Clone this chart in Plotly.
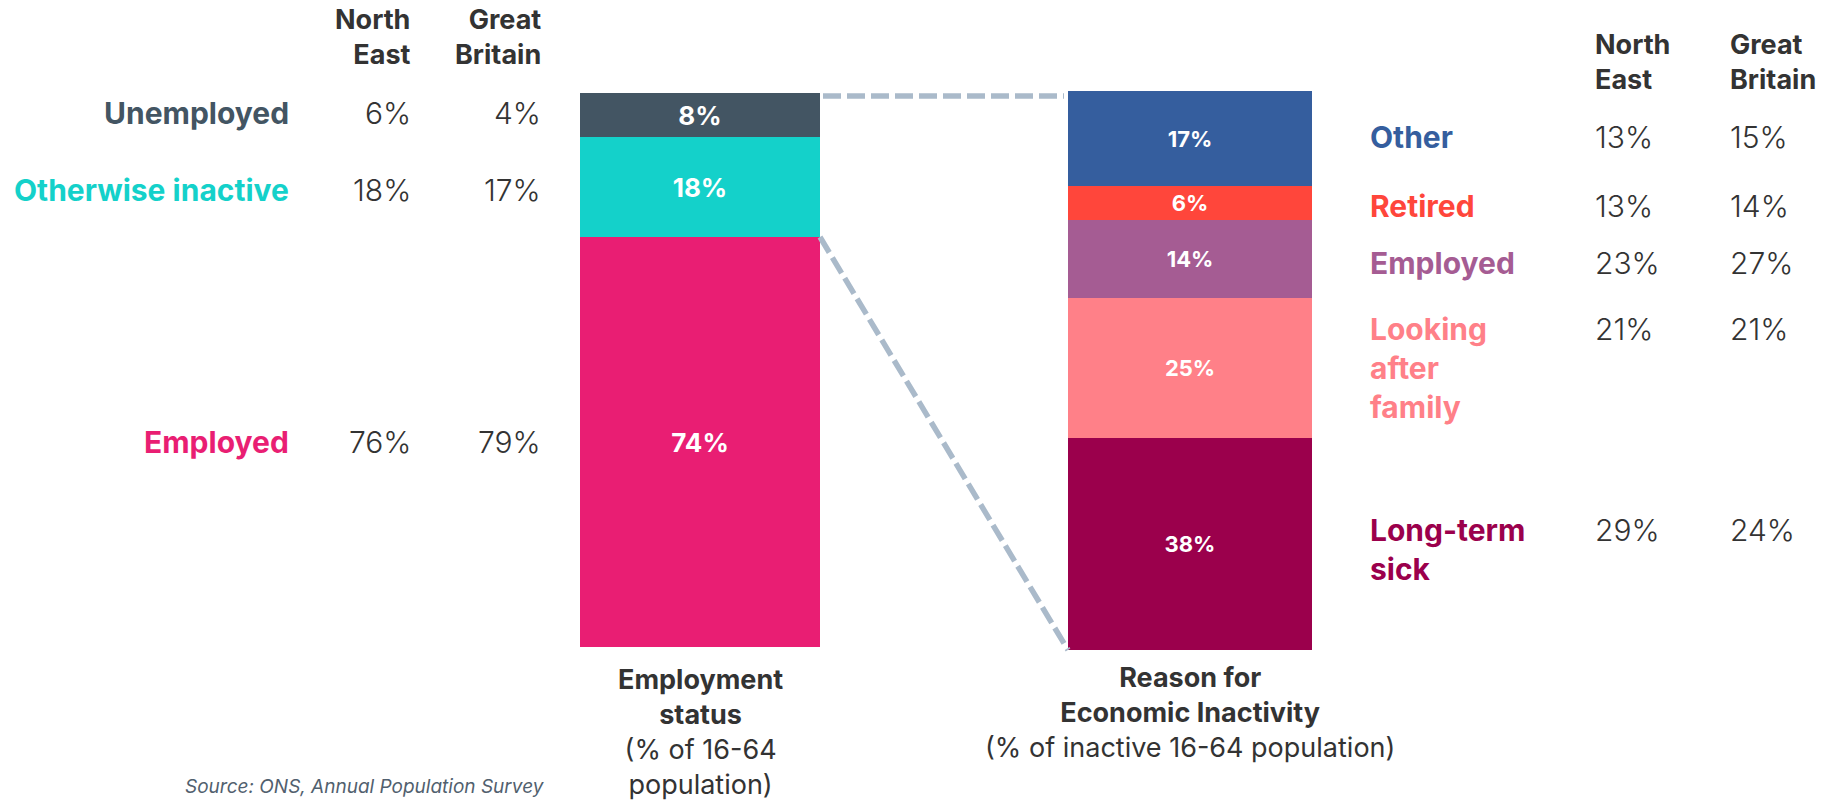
import plotly.graph_objects as go

W, H = 1826, 800

# ---------------- data ----------------
# Employment status (bottom -> top of the stacked bar)
status_labels = ["Employed", "Otherwise inactive", "Unemployed"]
status_share = [74, 18, 8]          # bar values (% of 16-64 population)
status_ne = [76, 18, 6]             # table: North East
status_gb = [79, 17, 4]             # table: Great Britain
status_colors = ["#E91E73", "#14D1CA", "#435563"]

# Reason for economic inactivity (bottom -> top)
reason_labels = ["Long-term<br>sick", "Looking<br>after<br>family", "Employed", "Retired", "Other"]
reason_share = [38, 25, 14, 6, 17]  # bar values (% of inactive 16-64 population)
reason_ne = [29, 21, 23, 13, 13]
reason_gb = [24, 21, 27, 14, 15]
reason_colors = ["#9B004C", "#FF8088", "#A55C93", "#FF463B", "#355E9E"]

header_cols = ["North<br>East", "Great<br>Britain"]

# ---------------- layout / style (page pixels) ----------------
LBAR = dict(x0=580, x1=820, y0=93, y1=647)
RBAR = dict(x0=1068, x1=1312, y0=91, y1=650)
status_nudge = [0, -3, 2]            # px, per row label (bottom -> top)
reason_nudge = [-6, 0, -4, -3, 2]

FONT = "Inter, Roboto, 'Open Sans', sans-serif"
TXT = "#333333"


def px(xp):
    return xp / W


def py(yp):
    return 1 - yp / H


fig = go.Figure()

for lab, v, c in zip(status_labels, status_share, status_colors):
    fig.add_trace(go.Bar(
        x=[0], y=[v], width=1, marker=dict(color=c, line=dict(width=0)),
        text=[f"<b>{v}%</b>"], textposition="inside", insidetextanchor="middle",
        textangle=0, constraintext="none",
        textfont=dict(color="white", size=26, family=FONT),
        xaxis="x", yaxis="y", name=lab, hoverinfo="skip", showlegend=False))

for lab, v, c in zip(reason_labels, reason_share, reason_colors):
    fig.add_trace(go.Bar(
        x=[0], y=[v], width=1, marker=dict(color=c, line=dict(width=0)),
        text=[f"<b>{v}%</b>"], textposition="inside", insidetextanchor="middle",
        textangle=0, constraintext="none",
        textfont=dict(color="white", size=22, family=FONT),
        xaxis="x2", yaxis="y2", name=lab.replace("<br>", " "), hoverinfo="skip",
        showlegend=False))

ann = []
LBL = 30
LH = 1.3 * LBL
HDR = 27
VAL_FONT = dict(size=LBL, color=TXT, family=FONT, weight=300)

# left table
for xr, head in zip([413, 543], header_cols):
    ann.append(dict(xref="paper", yref="paper", x=px(xr), y=py(37), xanchor="right",
                    yanchor="middle", align="right", showarrow=False,
                    text=f"<b>{head}</b>", font=dict(size=HDR, color=TXT, family=FONT)))
cum = 0
for lab, v, c, ne, gb, nd in zip(status_labels, status_share, status_colors, status_ne,
                                 status_gb, status_nudge):
    mid = cum + v / 2
    cum += v
    ann.append(dict(xref="paper", yref="y", x=px(291), y=mid, xanchor="right", yanchor="middle",
                    showarrow=False, text=f"<b>{lab}</b>", yshift=nd,
                    font=dict(size=LBL, color=c, family=FONT)))
    for xr, val in zip([413, 543], [ne, gb]):
        ann.append(dict(xref="paper", yref="y", x=px(xr), y=mid, xanchor="right",
                        yanchor="middle", showarrow=False, text=f"{val}%", yshift=nd,
                        font=VAL_FONT))

# right table
for xl, head in zip([1593, 1728], header_cols):
    ann.append(dict(xref="paper", yref="paper", x=px(xl), y=py(62), xanchor="left",
                    yanchor="middle", align="left", showarrow=False,
                    text=f"<b>{head}</b>", font=dict(size=HDR, color=TXT, family=FONT)))
cum = 0
for lab, v, c, ne, gb, nd in zip(reason_labels, reason_share, reason_colors, reason_ne,
                                 reason_gb, reason_nudge):
    mid = cum + v / 2
    cum += v
    nlines = lab.count("<br>") + 1
    ann.append(dict(xref="paper", yref="y2", x=px(1368), y=mid, xanchor="left", yanchor="middle",
                    align="left", showarrow=False, text=f"<b>{lab}</b>", yshift=nd,
                    font=dict(size=LBL, color=c, family=FONT)))
    for xl, val in zip([1593, 1728], [ne, gb]):
        ann.append(dict(xref="paper", yref="y2", x=px(xl), y=mid, xanchor="left",
                        yanchor="middle", showarrow=False, text=f"{val}%",
                        yshift=nd + (nlines - 1) / 2 * LH, font=VAL_FONT))

# axis titles under bars
ann.append(dict(xref="x", yref="paper", x=0, y=py(661), xanchor="center", yanchor="top",
                showarrow=False, align="center",
                text="<b>Employment<br>status</b><br>(% of 16-64<br>population)",
                font=dict(size=27, color=TXT, family=FONT)))
ann.append(dict(xref="x2", yref="paper", x=0, y=py(659), xanchor="center", yanchor="top",
                showarrow=False, align="center",
                text="<b>Reason for<br>Economic Inactivity</b><br>(% of inactive 16-64 population)",
                font=dict(size=27, color=TXT, family=FONT)))

# source note at the bottom-left
ann.append(dict(xref="paper", yref="paper", x=px(547), y=0, xanchor="right", yanchor="bottom",
                showarrow=False, text="<i>Source: ONS, Annual Population Survey</i>",
                font=dict(size=19, color="#51606E", family=FONT)))

# connector lines, derived from the bar domains and data
ly0, ly1 = py(LBAR["y1"]), py(LBAR["y0"])
ry0, ry1 = py(RBAR["y1"]), py(RBAR["y0"])
y_split = ly0 + (ly1 - ly0) * status_share[0] / 100  # top of "Employed" segment
dash = dict(color="#AABACA", width=5.5, dash="18px,6px")
shapes = [
    dict(type="line", xref="paper", yref="paper", x0=px(LBAR["x1"] + 3), x1=px(RBAR["x0"] - 4),
         y0=ly1 - 3 / H, y1=ly1 - 3 / H, line=dash),
    dict(type="line", xref="paper", yref="paper", x0=px(LBAR["x1"]), x1=px(RBAR["x0"]),
         y0=y_split, y1=ry0, line=dash),
]

fig.update_layout(
    width=W, height=H, margin=dict(l=0, r=0, t=0, b=0),
    paper_bgcolor="white", plot_bgcolor="white",
    barmode="stack", bargap=0,
    xaxis=dict(domain=[px(LBAR["x0"]), px(LBAR["x1"])], range=[-0.5, 0.5], visible=False,
               fixedrange=True),
    yaxis=dict(domain=[ly0, ly1], range=[0, 100], visible=False, fixedrange=True),
    xaxis2=dict(domain=[px(RBAR["x0"]), px(RBAR["x1"])], range=[-0.5, 0.5], visible=False,
                anchor="y2", fixedrange=True),
    yaxis2=dict(domain=[ry0, ry1], range=[0, 100], visible=False, anchor="x2",
                fixedrange=True),
    annotations=ann, shapes=shapes,
    font=dict(family=FONT, color=TXT),
)

fig.write_html(
    "out.html",
    config={"displayModeBar": False},
    post_script="document.body.style.margin='0';document.body.style.overflow='hidden';",
)
